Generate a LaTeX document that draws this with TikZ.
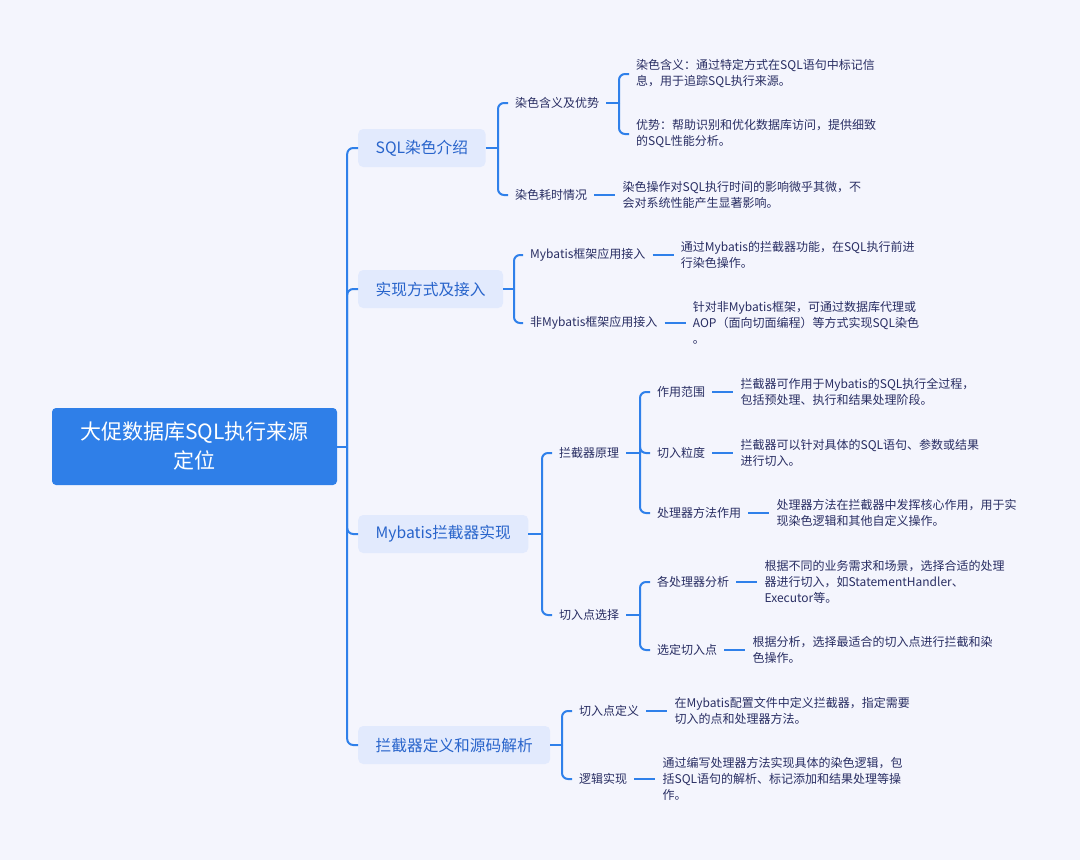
\documentclass[tikz,border=0pt]{standalone}
\usepackage{fontspec}
\setmainfont{Noto Sans CJK SC}
\usetikzlibrary{positioning}
\definecolor{bgcol}{HTML}{F4F5FD}
\definecolor{linecol}{HTML}{2F80EA}
\definecolor{rootcol}{HTML}{2F7FE8}
\definecolor{topicfill}{HTML}{E2EAFD}
\definecolor{topictext}{HTML}{2864CB}
\definecolor{leaftext}{HTML}{292E63}

\begin{document}
\begin{tikzpicture}[x=1pt, y=-1pt,
    root/.style = {fill=rootcol, rounded corners=4, text=white, align=center,
      minimum width=285, minimum height=77, font=\fontsize{21}{29}\selectfont},
    topic/.style = {fill=topicfill, rounded corners=5, text=topictext, anchor=west,
      inner xsep=17.5, minimum height=38, font=\fontsize{15.7}{18}\selectfont},
    sub/.style = {text=leaftext, anchor=west, inner xsep=7, inner ysep=2,
      font=\fontsize{12}{16}\selectfont},
    leaf/.style = {text=leaftext, align=left, inner xsep=7, inner ysep=0,
      font=\fontsize{12}{16}\selectfont},
    link/.style = {draw=linecol, line width=2, rounded corners=6}]
  \fill[bgcol] (0,0) rectangle (1080,860);

  % root and main topics
  \node[root](root) at (194.5,446.5){大促数据库SQL执行来源\\定位};
  \node[topic](t1) at (358,148){SQL染色介绍};
  \node[topic](t2) at (358,289){实现方式及接入};
  \node[topic](t3) at (358,534){Mybatis拦截器实现};
  \node[topic](t4) at (358,745){拦截器定义和源码解析};

  % second level
  \node[sub](s11) at (508,103){染色含义及优势};
  \node[sub](s12) at (508,195){染色耗时情况};
  \node[sub](s21) at (523,255){Mybatis框架应用接入};
  \node[sub](s22) at (523,323){非Mybatis框架应用接入};
  \node[sub](s31) at (552,453){拦截器原理};
  \node[sub](s32) at (552,615){切入点选择};
  \node[sub](s41) at (572,711){切入点定义};
  \node[sub](s42) at (572,779){逻辑实现};

  % third level
  \node[leaf, anchor=west](l111) at (629,74){染色含义：通过特定方式在SQL语句中标记信\\息，用于追踪SQL执行来源。};
  \node[leaf, anchor=west](l112) at (629,134){优势：帮助识别和优化数据库访问，提供细致\\的SQL性能分析。};
  \node[sub](s311) at (650,392){作用范围};
  \node[sub](s312) at (650,453){切入粒度};
  \node[sub](s313) at (650,513){处理器方法作用};
  \node[sub](s321) at (650,582){各处理器分析};
  \node[sub](s322) at (650,650){选定切入点};

  % leaves
  \node[leaf](l12)[right=21pt of s12]{染色操作对SQL执行时间的影响微乎其微，不\\会对系统性能产生显著影响。};
  \node[leaf](l21)[right=21pt of s21]{通过Mybatis的拦截器功能，在SQL执行前进\\行染色操作。};
  \node[leaf](l22)[right=21pt of s22]{针对非Mybatis框架，可通过数据库代理或\\AOP（面向切面编程）等方式实现SQL染色\\。};
  \node[leaf](l311)[right=21pt of s311]{拦截器可作用于Mybatis的SQL执行全过程，\\包括预处理、执行和结果处理阶段。};
  \node[leaf](l312)[right=21pt of s312]{拦截器可以针对具体的SQL语句、参数或结果\\进行切入。};
  \node[leaf](l313)[right=21pt of s313]{处理器方法在拦截器中发挥核心作用，用于实\\现染色逻辑和其他自定义操作。};
  \node[leaf](l321)[right=21pt of s321]{根据不同的业务需求和场景，选择合适的处理\\器进行切入，如StatementHandler、\\Executor等。};
  \node[leaf](l322)[right=21pt of s322]{根据分析，选择最适合的切入点进行拦截和染\\色操作。};
  \node[leaf](l41)[right=21pt of s41]{在Mybatis配置文件中定义拦截器，指定需要\\切入的点和处理器方法。};
  \node[leaf](l42)[right=21pt of s42]{通过编写处理器方法实现具体的染色逻辑，包\\括SQL语句的解析、标记添加和结果处理等操\\作。};

  % brackets
  \draw[link] (root.east) -- ++(10,0) coordinate (rb);
  \foreach \c in {t1,t2,t3,t4} \draw[link] (rb) |- (\c.west);
  \draw[link] (t1.east) -- (498,148) coordinate (b1);
  \foreach \c in {s11,s12} \draw[link] (b1) |- (\c.west);
  \draw[link] (t2.east) -- (514,289) coordinate (b2);
  \foreach \c in {s21,s22} \draw[link] (b2) |- (\c.west);
  \draw[link] (t3.east) -- (542,534) coordinate (b3);
  \foreach \c in {s31,s32} \draw[link] (b3) |- (\c.west);
  \draw[link] (t4.east) -- (562,745) coordinate (b4);
  \foreach \c in {s41,s42} \draw[link] (b4) |- (\c.west);
  \draw[link] (s11.east) -- (619,103) coordinate (b11);
  \foreach \c in {l111,l112} \draw[link] (b11) |- (\c.west);
  \draw[link] (s31.east) -- (640,453) coordinate (b31);
  \foreach \c in {s311,s312,s313} \draw[link] (b31) |- (\c.west);
  \draw[link] (s32.east) -- (640,615) coordinate (b32);
  \foreach \c in {s321,s322} \draw[link] (b32) |- (\c.west);
  \foreach \a/\b in {s12/l12,s21/l21,s22/l22,s311/l311,s312/l312,s313/l313,s321/l321,s322/l322,s41/l41,s42/l42}
    \draw[link] (\a) -- (\b);
\end{tikzpicture}
\end{document}
